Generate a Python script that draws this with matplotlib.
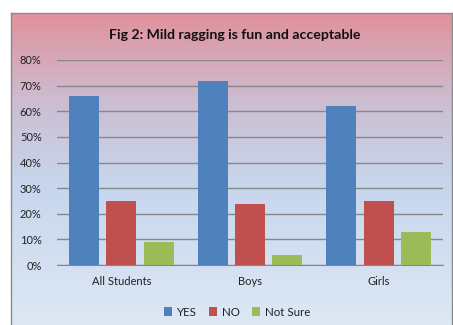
import numpy as np
import matplotlib
matplotlib.use("Agg")
import matplotlib.pyplot as plt
from matplotlib.patches import Patch
from matplotlib.colors import LinearSegmentedColormap
from matplotlib.ticker import FuncFormatter, MultipleLocator

categories = ["All Students", "Boys", "Girls"]
series_names = ["YES", "NO", "Not Sure"]
yes_vals = [66, 72, 62]
no_vals = [25, 24, 25]
notsure_vals = [9, 4, 13]
title = "Fig 2: Mild ragging is fun and acceptable"

colors = ["#4F81BD", "#C0504D", "#9BBB59"]
plt.rcParams['font.family'] = ['Lato', 'DejaVu Sans']

W, H = 453, 325
fig = plt.figure(figsize=(W / 100, H / 100), dpi=100)
fig.patch.set_facecolor("white")

# chart area background with gradient
bx0, bx1, by_top = 11, 452, 13
bg = fig.add_axes([bx0 / W, 0, (bx1 - bx0) / W, (H - by_top) / H], zorder=0)
cmap = LinearSegmentedColormap.from_list(
    "g", [(0.0, (0.88, 0.57, 0.61)), (0.28, (0.80, 0.74, 0.82)),
          (0.55, (0.78, 0.84, 0.93)), (1.0, (0.87, 0.91, 0.96))])
grad = np.linspace(0, 1, 256).reshape(-1, 1)
bg.imshow(grad, aspect="auto", cmap=cmap, extent=[0, 1, 1, 0])
bg.set_xlim(0, 1)
bg.set_ylim(1, 0)
bg.set_xticks([])
bg.set_yticks([])
for s in ["left", "top", "right"]:
    bg.spines[s].set_color("#8a8a8a")
    bg.spines[s].set_linewidth(1.0)
bg.spines["bottom"].set_visible(False)

ax = fig.add_axes([57 / W, (H - 265) / H, (443 - 57) / W, (265 - 60) / H], zorder=1)
ax.patch.set_alpha(0)

x = np.arange(len(categories))
width = 0.233
step = 0.291
for i, (vals, c, n) in enumerate(zip([yes_vals, no_vals, notsure_vals], colors, series_names)):
    ax.bar(x + (i - 1) * step, np.array(vals) / 100, width, color=c, label=n, zorder=3)

ax.set_xlim(-0.5, 2.5)
ax.set_ylim(0, 0.8)
ax.yaxis.set_major_locator(MultipleLocator(0.1))
ax.yaxis.set_major_formatter(FuncFormatter(lambda v, p: f"{v*100:.0f}%"))
ax.grid(axis="y", color="#878787", linewidth=1.0, zorder=1)
ax.set_axisbelow(True)
ax.set_xticks(x)
ax.set_xticklabels(categories)
ax.tick_params(axis="y", length=0, pad=11, labelsize=8, colors="#222222")
ax.tick_params(axis="x", length=0, pad=8, labelsize=8, colors="#222222")
for s in ["left", "top", "right"]:
    ax.spines[s].set_visible(False)
ax.spines["bottom"].set_color("#878787")

fig.text(235 / W, 1 - 35 / H, title, ha="center", va="center",
         fontsize=10.2, fontweight="bold", color="#111111")

handles = [Patch(facecolor=c, label=n) for c, n in zip(colors, series_names)]
fig.legend(handles=handles, loc="center", bbox_to_anchor=(237 / W, 1 - 312 / H),
           ncol=3, frameon=False, fontsize=8.3, handlelength=0.7, handleheight=0.7,
           handletextpad=0.4, columnspacing=1.1, labelcolor="#222222")

fig.savefig("out.png", dpi=100)
